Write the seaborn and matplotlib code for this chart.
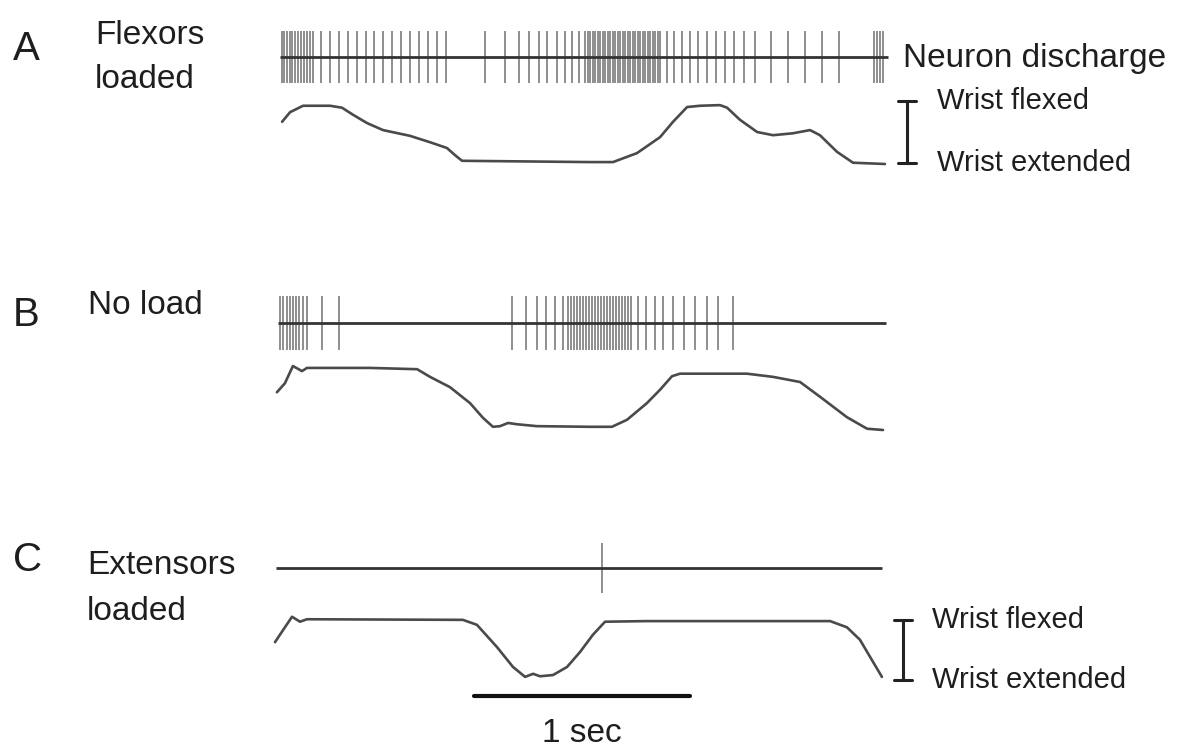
import numpy as np
import pandas as pd
import matplotlib
matplotlib.use("Agg")
import matplotlib.pyplot as plt
import seaborn as sns

# spike times (s)
spikes_a = [0.019, 0.028, 0.042, 0.056, 0.065, 0.079, 0.093, 0.106, 0.120, 0.134, 0.148, 0.162,
            0.199, 0.241, 0.282, 0.324, 0.366, 0.407, 0.444, 0.486, 0.528, 0.569, 0.611, 0.653,
            0.694, 0.736, 0.778,
            0.958, 1.051, 1.116, 1.162, 1.208, 1.245, 1.292, 1.329, 1.361, 1.394, 1.421,
            1.435, 1.444, 1.458, 1.468, 1.481, 1.491, 1.505, 1.514, 1.528, 1.537, 1.551, 1.560,
            1.574, 1.583, 1.597, 1.606, 1.620, 1.630, 1.644, 1.653, 1.667, 1.676, 1.690, 1.699,
            1.713, 1.722, 1.736, 1.745, 1.759, 1.769,
            1.801, 1.833, 1.870, 1.907, 1.944, 1.986, 2.028, 2.069, 2.111, 2.157, 2.208, 2.282,
            2.361, 2.440, 2.519, 2.597,
            2.759, 2.773, 2.787, 2.801]
spikes_b = [0.009, 0.023, 0.042, 0.056, 0.069, 0.083, 0.097, 0.116, 0.134, 0.204, 0.282,
            1.083, 1.148, 1.199, 1.241, 1.282, 1.319,
            1.343, 1.356, 1.370, 1.384, 1.398, 1.412, 1.426, 1.440, 1.454, 1.468, 1.481, 1.495,
            1.509, 1.523, 1.537, 1.551, 1.565, 1.579, 1.593, 1.606, 1.620, 1.634,
            1.667, 1.704, 1.745, 1.782, 1.829, 1.880, 1.931, 1.986, 2.037, 2.106]
spikes_c = [1.500]

# wrist position (0 = extended, 1 = flexed)
time_a = [0.019, 0.056, 0.116, 0.241, 0.296, 0.347, 0.412, 0.486, 0.611, 0.704, 0.782, 0.819,
          0.852, 1.444, 1.551, 1.662, 1.769, 1.829, 1.894, 1.954, 2.046, 2.079, 2.139, 2.218,
          2.292, 2.384, 2.463, 2.509, 2.588, 2.662, 2.810]
pos_a = [0.66, 0.81, 0.91, 0.91, 0.88, 0.77, 0.64, 0.53, 0.44, 0.34, 0.25, 0.14,
         0.05, 0.03, 0.03, 0.17, 0.42, 0.66, 0.89, 0.91, 0.92, 0.88, 0.69, 0.50,
         0.45, 0.48, 0.53, 0.45, 0.19, 0.02, 0.0]
time_b = [-0.005, 0.032, 0.069, 0.111, 0.134, 0.426, 0.644, 0.704, 0.796, 0.889, 0.949, 0.995,
          1.028, 1.065, 1.106, 1.199, 1.444, 1.546, 1.616, 1.708, 1.769, 1.824, 1.861, 2.171,
          2.292, 2.417, 2.509, 2.634, 2.727, 2.801]
pos_b = [0.59, 0.73, 1.00, 0.92, 0.97, 0.97, 0.95, 0.83, 0.67, 0.42, 0.19, 0.05,
         0.06, 0.11, 0.09, 0.06, 0.05, 0.05, 0.16, 0.42, 0.63, 0.84, 0.88, 0.88,
         0.83, 0.75, 0.52, 0.20, 0.02, 0.0]
time_c = [-0.014, 0.032, 0.065, 0.102, 0.134, 0.856, 0.921, 1.014, 1.088, 1.144, 1.181, 1.213,
          1.273, 1.338, 1.398, 1.458, 1.514, 1.708, 2.556, 2.634, 2.694, 2.750, 2.796]
pos_c = [0.61, 0.85, 1.02, 0.94, 0.98, 0.97, 0.89, 0.53, 0.21, 0.05, 0.10, 0.06,
         0.08, 0.21, 0.45, 0.73, 0.94, 0.95, 0.95, 0.85, 0.65, 0.32, 0.05]

panel_letters = ["A", "B", "C"]

sns.set_style("white")
plt.rcParams["font.family"] = ["Liberation Sans", "DejaVu Sans"]

fig = plt.figure(figsize=(11.92, 7.5), dpi=100)
ax = fig.add_axes([0, 0, 1, 1])
px = 216.0  # pixels per second
ax.set_xlim(-278 / px, (1192 - 278) / px)
ax.set_ylim(750, 0)
ax.axis("off")

ink = "#333333"
txt = "#1e1e1e"
panels = [
    dict(spk=spikes_a, t=time_a, p=pos_a, line_y=57, h=26, base=164, amp=64, x0=0.009, x1=2.824),
    dict(spk=spikes_b, t=time_b, p=pos_b, line_y=323, h=27, base=430, amp=64, x0=0.0, x1=2.815),
    dict(spk=spikes_c, t=time_c, p=pos_c, line_y=568, h=25, base=680, amp=62, x0=-0.009, x1=2.796),
]

for i, pn in enumerate(panels):
    # discharge baseline + spikes
    ax.vlines(pn["spk"], pn["line_y"] - pn["h"], pn["line_y"] + pn["h"], color="#707070", lw=1.1)
    ax.plot([pn["x0"], pn["x1"]], [pn["line_y"]] * 2, color=ink, lw=2.0, solid_capstyle="butt")
    # wrist position trace
    df = pd.DataFrame({"time": pn["t"], "pos": pn["p"]})
    df["y"] = pn["base"] - df["pos"] * pn["amp"]
    sns.lineplot(data=df, x="time", y="y", ax=ax, color="#4a4a4a", lw=1.9, sort=False,
                 solid_joinstyle="round", solid_capstyle="round")

    ax.text(-265 / px, pn["line_y"] - 8, panel_letters[i], fontsize=29, va="center", ha="left", color=txt)

ax.set_xlabel("")
ax.set_ylabel("")

ax.text(95 / px - 278 / px, 35, "Flexors", fontsize=24, va="center", color=txt)
ax.text(95 / px - 278 / px, 80, "loaded", fontsize=24, va="center", color=txt)
ax.text(88 / px - 278 / px, 305, "No load", fontsize=24, va="center", color=txt)
ax.text(87 / px - 278 / px, 565, "Extensors", fontsize=24, va="center", color=txt)
ax.text(87 / px - 278 / px, 612, "loaded", fontsize=24, va="center", color=txt)

ax.text((903 - 278) / px, 58, "Neuron discharge", fontsize=24, va="center", color=txt)

# flexed / extended calibration bars
for xb, top, bot, xt in [(907, 101, 163, 937), (903, 620, 680, 932)]:
    xc = (xb - 278) / px
    cw = 9 / px
    ax.plot([xc, xc], [top, bot], color="#222", lw=2.2)
    ax.plot([xc - cw, xc + cw], [top, top], color="#222", lw=2.2)
    ax.plot([xc - cw, xc + cw], [bot, bot], color="#222", lw=2.2)
    ax.text((xt - 278) / px, top, "Wrist flexed", fontsize=21, va="center", color=txt)
    ax.text((xt - 278) / px, bot, "Wrist extended", fontsize=21, va="center", color=txt)

# 1 sec scale bar
sb0 = (474 - 278) / px
ax.plot([sb0, sb0 + 1.0], [696, 696], color="#111", lw=3)
ax.text(sb0 + 0.5, 734, "1 sec", fontsize=24, ha="center", va="center", color=txt)

fig.savefig("out.png", dpi=100)
